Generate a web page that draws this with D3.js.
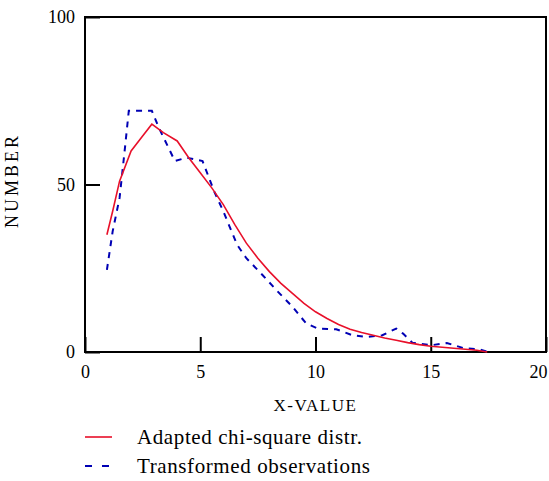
<!DOCTYPE html>
<html>
<head>
<meta charset="utf-8">
<script src="https://cdn.jsdelivr.net/npm/d3@7"></script>
<style>
  body { margin: 0; background: #fff; }
  text { font-family: "Liberation Serif", "Times New Roman", serif; }
</style>
</head>
<body>
<div id="chart"></div>
<script>
// values
var xTicks = [0, 5, 10, 15, 20]
var yTicks = [0, 50, 100]

// adapted chi-square distribution (red)
var fitX = [0.95, 1.2, 1.5, 2, 2.5, 2.9, 3.4, 4, 4.5, 5, 5.5, 6, 6.5, 7, 7.5, 8, 8.5, 9, 9.5, 10,
            10.5, 11, 11.5, 12, 12.5, 13, 13.5, 14, 14.5, 15, 15.5, 16, 16.5, 17, 17.45]
var fitY = [35, 42, 51, 60, 64.5, 68, 65.5, 63, 58, 53.5, 49, 44, 38, 32.5, 28, 24, 20.5, 17.5, 14.5, 12,
            10, 8.2, 6.8, 5.8, 5, 4.2, 3.5, 2.8, 2.2, 1.7, 1.4, 1.1, 0.8, 0.5, 0]

// transformed observations (blue dashed)
var obsX = [0.95, 1.2, 1.5, 1.75, 1.9, 2.9, 3.2, 3.9, 4.4, 5.1, 5.6, 6.0, 6.6, 7, 7.7, 8.3, 9, 9.6, 10.1,
            10.9, 11.6, 12.2, 12.9, 13.5, 13.8, 14.2, 15, 15.7, 16.4, 17.1, 17.5]
var obsY = [24.5, 36, 46, 62, 72, 72, 67, 57, 58, 57, 48, 42, 32, 28, 23, 18.5, 13.5, 8.5, 7,
            6.8, 5, 4.5, 5, 7, 5.5, 2.8, 2, 2.7, 1.2, 0.8, 0]

var legendLabels = ["Adapted chi-square distr.", "Transformed observations"]

var W = 549, H = 481
var margin = {top: 17, right: 3, bottom: 129, left: 85}
var width = W - margin.left - margin.right,
    height = H - margin.top - margin.bottom

var svg = d3.select("#chart").append("svg")
    .attr("width", W)
    .attr("height", H)
  .append("g")
    .attr("transform", "translate(" + margin.left + "," + margin.top + ")")

var x = d3.scaleLinear().domain([0, 20]).range([0, width])
var y = d3.scaleLinear().domain([0, 100]).range([height, 0])

// axes with inside ticks
var xAxis = svg.append("g")
    .attr("transform", "translate(0," + height + ")")
    .call(d3.axisBottom(x).tickValues(xTicks).tickSize(-15).tickSizeOuter(0).tickPadding(13))
var yAxis = svg.append("g")
    .call(d3.axisLeft(y).tickValues(yTicks).tickSize(-15).tickSizeOuter(0).tickPadding(10))

svg.selectAll(".domain").remove()
svg.selectAll(".tick line").attr("stroke", "#000").attr("stroke-width", 2)
svg.selectAll(".tick text")
    .style("font-family", "'Liberation Serif', serif")
    .style("font-size", "18px")
    .attr("fill", "#000")

// last x label sits inside the frame edge
xAxis.selectAll(".tick text")
    .filter(function (d) { return d === 20 })
    .attr("text-anchor", "end")
    .attr("x", 1)

// frame
svg.append("rect")
    .attr("x", 0).attr("y", 0)
    .attr("width", width).attr("height", height)
    .attr("fill", "none")
    .attr("stroke", "#000")
    .attr("stroke-width", 2)

var line = d3.line()
    .x(function (d) { return x(d[0]) })
    .y(function (d) { return y(d[1]) })

var fit = fitX.map(function (v, i) { return [v, fitY[i]] })
var obs = obsX.map(function (v, i) { return [v, obsY[i]] })

svg.append("path")
    .datum(obs)
    .attr("d", line)
    .attr("fill", "none")
    .attr("stroke", "#0000b4")
    .attr("stroke-width", 2)
    .attr("stroke-dasharray", "6,6")

svg.append("path")
    .datum(fit)
    .attr("d", line)
    .attr("fill", "none")
    .attr("stroke", "#e8102a")
    .attr("stroke-width", 1.6)

// axis labels
svg.append("text")
    .attr("x", x(10))
    .attr("y", height + 59)
    .attr("text-anchor", "middle")
    .style("font-size", "17px")
    .style("letter-spacing", "1.5px")
    .text("X-VALUE")

svg.append("text")
    .attr("transform", "rotate(-90)")
    .attr("x", -(y(50) - 4))
    .attr("y", -67)
    .attr("text-anchor", "middle")
    .style("font-size", "18px")
    .style("letter-spacing", "3px")
    .text("NUMBER")

// legend
var legend = svg.append("g")
    .attr("transform", "translate(0," + (height + 85) + ")")

var styles = [
  {stroke: "#e8102a", dash: null, w: 1.6},
  {stroke: "#0000b4", dash: "7,10", w: 2}
]

legendLabels.forEach(function (lab, i) {
  var g = legend.append("g").attr("transform", "translate(0," + (i * 29) + ")")
  g.append("line")
      .attr("x1", 0).attr("x2", 27)
      .attr("y1", 0).attr("y2", 0)
      .attr("stroke", styles[i].stroke)
      .attr("stroke-width", styles[i].w)
      .attr("stroke-dasharray", styles[i].dash)
  g.append("text")
      .attr("x", 52)
      .attr("y", 7)
      .style("font-size", "21px")
      .style("letter-spacing", "0.6px")
      .text(lab)
})
</script>
</body>
</html>
